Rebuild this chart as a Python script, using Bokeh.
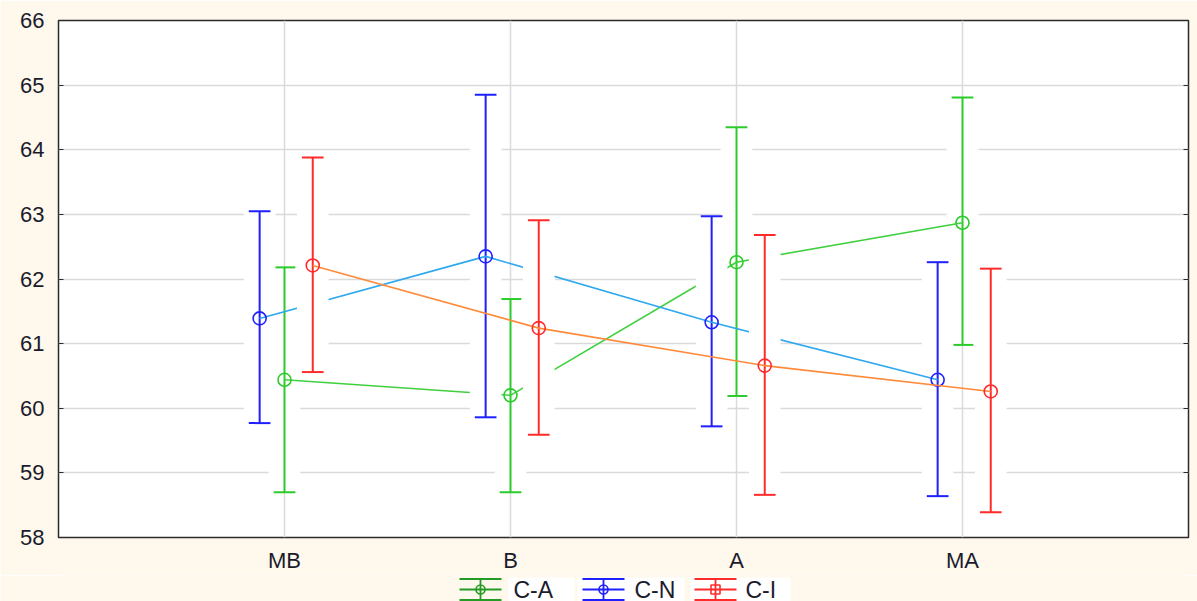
from bokeh.plotting import figure
from bokeh.models import FactorRange, Range1d, LinearAxis, FixedTicker, ColumnDataSource
from bokeh.transform import dodge
from bokeh.layouts import column
from bokeh.embed import file_html
from bokeh.resources import INLINE
from bokeh.core.properties import value

categories = ["MB", "B", "A", "MA"]
y_ticks = [58, 59, 60, 61, 62, 63, 64, 65, 66]

ca_mean = [60.44, 60.20, 62.26, 62.87]
ca_low = [58.70, 58.70, 60.19, 60.98]
ca_high = [62.18, 61.69, 64.35, 64.81]

cn_mean = [61.39, 62.35, 61.33, 60.44]
cn_low = [59.77, 59.86, 59.72, 58.64]
cn_high = [63.05, 64.85, 62.97, 62.26]

ci_mean = [62.21, 61.24, 60.66, 60.26]
ci_low = [60.56, 59.59, 58.66, 58.39]
ci_high = [63.88, 62.91, 62.68, 62.16]

series_names = ["C-A", "C-N", "C-I"]

BG = "#fef8ed"
FONT = "Liberation Sans"
TXT = "#1b1b2b"

p = figure(width=1197, height=575,
           x_range=FactorRange(factors=categories, range_padding=0.25),
           y_range=Range1d(58, 66),
           output_backend="svg", toolbar_location=None,
           min_border_left=58, min_border_right=9, min_border_top=20, min_border_bottom=35,
           background_fill_color="white", border_fill_color=BG,
           outline_line_color="#2b2b2b", outline_line_width=1.5)

# axes
ya = p.yaxis[0]
ya.ticker = FixedTicker(ticks=y_ticks)
ya.axis_line_color = None
ya.major_tick_in = 5
ya.major_tick_out = 0
ya.minor_tick_line_color = None
ya.major_tick_line_color = "#2b2b2b"
ya.major_label_standoff = 14
ya.major_label_text_font = FONT
ya.major_label_text_font_size = "22px"
ya.major_label_text_color = TXT

xa = p.xaxis[0]
xa.axis_line_color = None
xa.major_tick_in = 0
xa.major_tick_out = 0
xa.major_label_standoff = 10
xa.major_label_text_font = FONT
xa.major_label_text_font_size = "22px"
xa.major_label_text_color = TXT

ra = LinearAxis(ticker=FixedTicker(ticks=y_ticks), axis_line_color=None,
                major_tick_in=5, major_tick_out=0, minor_tick_line_color=None,
                major_tick_line_color="#2b2b2b", major_label_standoff=0,
                major_label_overrides={t: "" for t in y_ticks})
p.add_layout(ra, "right")

p.ygrid.ticker = FixedTicker(ticks=y_ticks)
p.ygrid.grid_line_color = "#dadada"
p.ygrid.grid_line_width = 1.5
p.xgrid.grid_line_color = "#dadada"
p.xgrid.grid_line_width = 1.5

series = [
    (ca_mean, ca_low, ca_high, 0.0, "#2ccb2c", "#3fd03f"),
    (cn_mean, cn_low, cn_high, -0.11, "#1f1fff", "#2ea8ee"),
    (ci_mean, ci_low, ci_high, 0.125, "#ff2b2b", "#ff8a3a"),
]

cap = 0.048
for mean, lo, hi, off, bar_c, line_c in series:
    src = ColumnDataSource(dict(cat=categories, mean=mean, lo=lo, hi=hi))
    xd = dodge("cat", off, range=p.x_range)
    xl = dodge("cat", off - cap, range=p.x_range)
    xr = dodge("cat", off + cap, range=p.x_range)
    p.vbar(x=xd, width=0.14, bottom="lo", top="hi", fill_color="white",
           line_color=None, source=src)
    p.segment(x0=xd, y0="lo", x1=xd, y1="hi", line_color=bar_c, line_width=2, source=src)
    p.segment(x0=xl, y0="hi", x1=xr, y1="hi", line_color=bar_c, line_width=2, source=src)
    p.segment(x0=xl, y0="lo", x1=xr, y1="lo", line_color=bar_c, line_width=2, source=src)
    p.line(x=xd, y="mean", line_color=line_c, line_width=1.6, source=src)
    p.scatter(x=xd, y="mean", marker="circle", size=13, fill_color=None,
              line_color=bar_c, line_width=1.6, source=src)

# legend strip (frame aligned with the main frame; coordinates in page pixels)
lg = figure(width=1197, height=26, x_range=Range1d(58, 1188), y_range=Range1d(601, 575),
            x_axis_type=None, y_axis_type=None,
            output_backend="svg", toolbar_location=None,
            min_border_left=58, min_border_right=9, min_border_top=0, min_border_bottom=0,
            background_fill_color=BG, border_fill_color=BG, outline_line_color=None)
lg.grid.visible = False

lg.quad(left=[508, 577, 690], right=[574, 684, 790], bottom=[601] * 3, top=[577] * 3,
        fill_color="white", line_color=None)

leg_colors = ["#249b24", "#1f1fff", "#ff2b2b"]
leg_markers = ["circle", "circle", "square"]
sym_left = [459, 582, 694]
text_left = [513, 634, 745]
yc = 589
for name, c, m, sx, tx in zip(series_names, leg_colors, leg_markers, sym_left, text_left):
    xm = sx + 21
    lg.segment(x0=[sx, sx, sx], y0=[yc - 10.5, yc, yc + 10.5], x1=[sx + 42] * 3,
               y1=[yc - 10.5, yc, yc + 10.5], line_color=c, line_width=1.8)
    lg.segment(x0=[xm], y0=[yc - 10.5], x1=[xm], y1=[yc + 10.5], line_color=c, line_width=1.8)
    lg.scatter(x=[xm], y=[yc], marker=m, size=9, fill_color=None, line_color=c, line_width=1.6)
    lg.text(x=[tx], y=[yc], text=[name], text_font=value(FONT), text_font_size="23px",
            text_color=TXT, text_baseline="middle", text_align="left")

layout = column(p, lg, spacing=0)
open("out.html", "w").write(file_html(layout, INLINE))
